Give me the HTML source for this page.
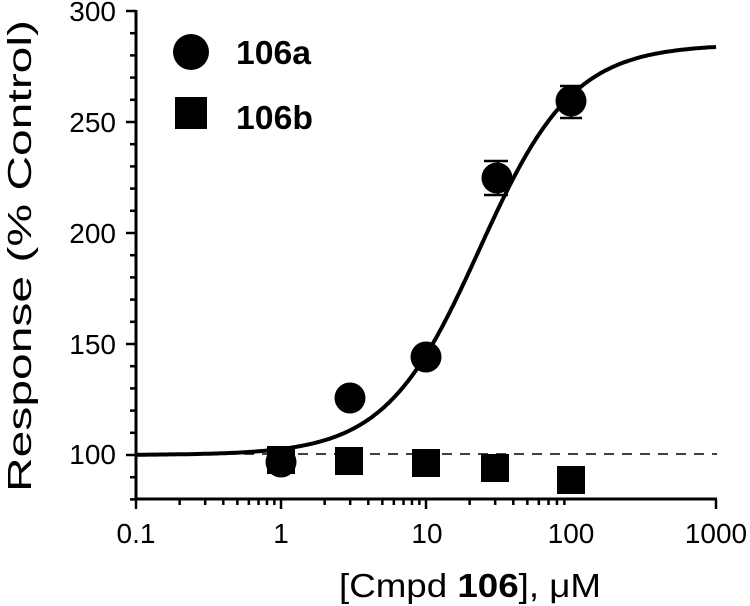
<!DOCTYPE html>
<html><head><meta charset="utf-8"><style>body{margin:0;background:#fff}svg{display:block}text{font-family:"Liberation Sans",Arial,sans-serif}</style></head>
<body>
<svg id="s" width="750" height="606" viewBox="0 0 750 606">
<g stroke="#000" stroke-width="3" fill="none">
<line x1="136" y1="10" x2="136" y2="500"/>
<line x1="135" y1="499" x2="717" y2="499"/>
</g>
<g id="ticks" stroke="#000" stroke-width="2.5"></g>
<line x1="136" y1="454" x2="717" y2="454" stroke="#000" stroke-width="1.5" stroke-dasharray="10,8"/>
<path id="curve" fill="none" stroke="#000" stroke-width="4"/>
<g font-size="28" text-anchor="end">
<text x="116" y="21">300</text><text x="116" y="132">250</text><text x="116" y="243">200</text><text x="116" y="354">150</text><text x="116" y="464">100</text>
</g>
<g font-size="28" text-anchor="middle">
<text x="136" y="543">0.1</text><text x="281" y="543">1</text><text x="427" y="543">10</text><text x="571" y="543">100</text><text x="716" y="543">1000</text>
</g>
<text x="339" y="597" font-size="33" textLength="262" lengthAdjust="spacingAndGlyphs">[Cmpd <tspan font-weight="bold">106</tspan>], μM</text>
<text transform="translate(31,492) rotate(-90)" font-size="33" textLength="472" lengthAdjust="spacingAndGlyphs">Response (% Control)</text>
<circle cx="191" cy="52" r="18"/>
<rect x="175" y="97" width="32" height="32"/>
<text x="236" y="64" font-size="33" font-weight="bold" textLength="75" lengthAdjust="spacingAndGlyphs">106a</text>
<text x="236" y="129" font-size="33" font-weight="bold" textLength="77" lengthAdjust="spacingAndGlyphs">106b</text>
<g stroke="#000" stroke-width="2.5">
<line x1="498" y1="161" x2="498" y2="195"/><line x1="484" y1="161" x2="508" y2="161"/><line x1="484" y1="195" x2="508" y2="195"/>
<line x1="571" y1="86" x2="571" y2="118"/><line x1="560" y1="86" x2="582" y2="86"/><line x1="560" y1="118" x2="582" y2="118"/>
</g>
<g>
<rect x="267" y="446" width="28" height="28"/>
<rect x="335" y="447" width="28" height="28"/>
<rect x="412" y="449" width="28" height="28"/>
<rect x="481" y="454" width="28" height="28"/>
<rect x="557" y="466" width="28" height="28"/>
<circle cx="281" cy="462" r="15.5"/>
<circle cx="350" cy="398" r="15.5"/>
<circle cx="426" cy="357" r="15.5"/>
<circle cx="497" cy="178" r="15.5"/>
<circle cx="571" cy="101" r="15.5"/>
</g>
</svg>
<script>
var t=document.getElementById('ticks'),h='';
for(var v=80;v<=300;v+=10){var y=11+(300-v)*2.22;var L=(v%50==0)?10:6;h+='<line x1="'+(136-L)+'" y1="'+y+'" x2="136" y2="'+y+'"/>';}
for(var d=0;d<3;d++){for(var m=1;m<=9;m++){var x=136+145*(d+Math.log10(m));var L=(m==1)?10:6;h+='<line x1="'+x+'" y1="499" x2="'+x+'" y2="'+(499+L)+'"/>';}}
h+='<line x1="716" y1="499" x2="716" y2="509"/>';
t.innerHTML=h;
var p='';
for(var i=0;i<=300;i++){var lx=-1+4*i/300;var c=Math.pow(10,lx);var r=100+185/(1+Math.pow(23.3/c,1.34));var X=136+145*(lx+1),Y=11+(300-r)*2.22;p+=(i?'L':'M')+X.toFixed(1)+' '+Y.toFixed(1);}
document.getElementById('curve').setAttribute('d',p);
</script>
</body></html>
